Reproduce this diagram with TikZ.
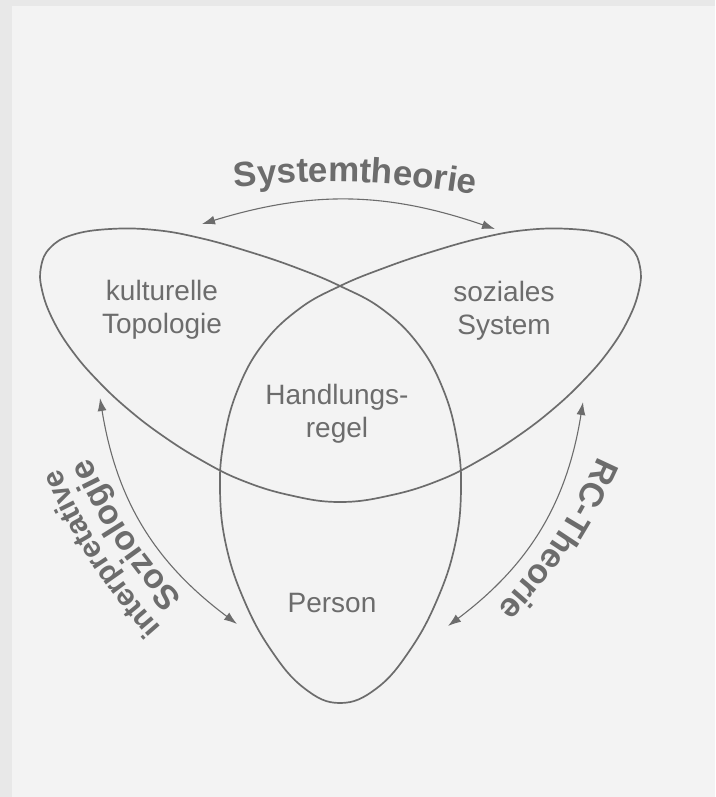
\documentclass[tikz,border=0pt]{standalone}
\usepackage{fontspec}
\setmainfont{Liberation Sans}
\usetikzlibrary{arrows.meta, decorations.text}
\definecolor{panel}{HTML}{F3F3F3}
\definecolor{frame}{HTML}{E8E8E8}
\definecolor{ink}{HTML}{6C6C6C}

\begin{document}
\begin{tikzpicture}[x=1pt, y=-1pt, every node/.style={text=ink, align=center, font=\fontsize{28}{33}\selectfont}, knot/.style={draw=ink, line width=1.7pt}, link/.style={draw=ink, line width=1.1pt, {Latex[length=13pt,width=9pt]}-{Latex[length=13pt,width=9pt]}, bend left=22}, arclabel/.style={decorate, decoration={text along path, text color=ink, text align=center, text={#1}}}]
  % background
  \fill[frame] (0,0) rectangle (715,797);
  \fill[panel] (12,6) rectangle (715,797);
  \useasboundingbox (0,0) rectangle (715,797);

  % the three-lobed curve
  \draw[knot] plot[smooth cycle, tension=0.7] coordinates {
    (42,290) (41,267) (50,248) (72,235) (110,229) (155,230) (200,238)
    (250,252) (297,268) (340,286)
    (382,309) (418,344) (443,389) (457,440) (461,490) (455,545)
    (437,600) (410,650) (377,688) (340,703)
    (304,688) (271,650) (244,600) (226,545) (220,490) (224,440)
    (238,389) (263,344) (299,309) (340,286)
    (384,268) (431,252) (481,238) (526,230) (571,229) (609,235)
    (631,248) (640,267) (639,290)
    (628,320) (608,352) (582,382) (552,410) (518,436) (480,460)
    (440,480) (392,495) (340,502)
    (289,495) (241,480) (201,460) (163,436) (129,410) (99,382)
    (73,352) (53,320)};

  % labels inside
  \node (kultur) at (162,310) {kulturelle\\Topologie};
  \node (sozial) at (504,311) {soziales\\System};
  \node (regel) at (337,414) {Handlungs-\\regel};
  \node[anchor=base] (person) at (332,612) {Person};

  % arrows
  \coordinate (sysw) at (202,224);
  \coordinate (syse) at (495,229);
  \coordinate (rcn) at (583,402);
  \coordinate (rcs) at (448,626);
  \coordinate (ints) at (237,624);
  \coordinate (intn) at (100,398);
  \draw[link, bend left=18] (sysw) to (syse);
  \draw[link] (rcn) to (rcs);
  \draw[link] (ints) to (intn);

  % texts along the arrows
  \coordinate (sysa) at (222,189);
  \coordinate (sysb) at (488,197);
  \coordinate (rca) at (603,445);
  \coordinate (rcb) at (489,617);
  \coordinate (soza) at (199,617);
  \coordinate (sozb) at (79,435);
  \coordinate (inta) at (177,645);
  \coordinate (intb) at (50,447);
  \path[arclabel={|\fontsize{35}{35}\selectfont\bfseries|Systemtheorie}] (sysa) to[bend left=8] (sysb);
  \path[arclabel={|\fontsize{34}{34}\selectfont\bfseries|RC-Theorie}] (rca) to[bend left=10] (rcb);
  \path[arclabel={|\fontsize{34}{34}\selectfont\bfseries|Soziologie}] (soza) to[bend left=10] (sozb);
  \path[arclabel={|\fontsize{30}{30}\selectfont\bfseries|interpretative}] (inta) to[bend left=10] (intb);
\end{tikzpicture}
\end{document}
